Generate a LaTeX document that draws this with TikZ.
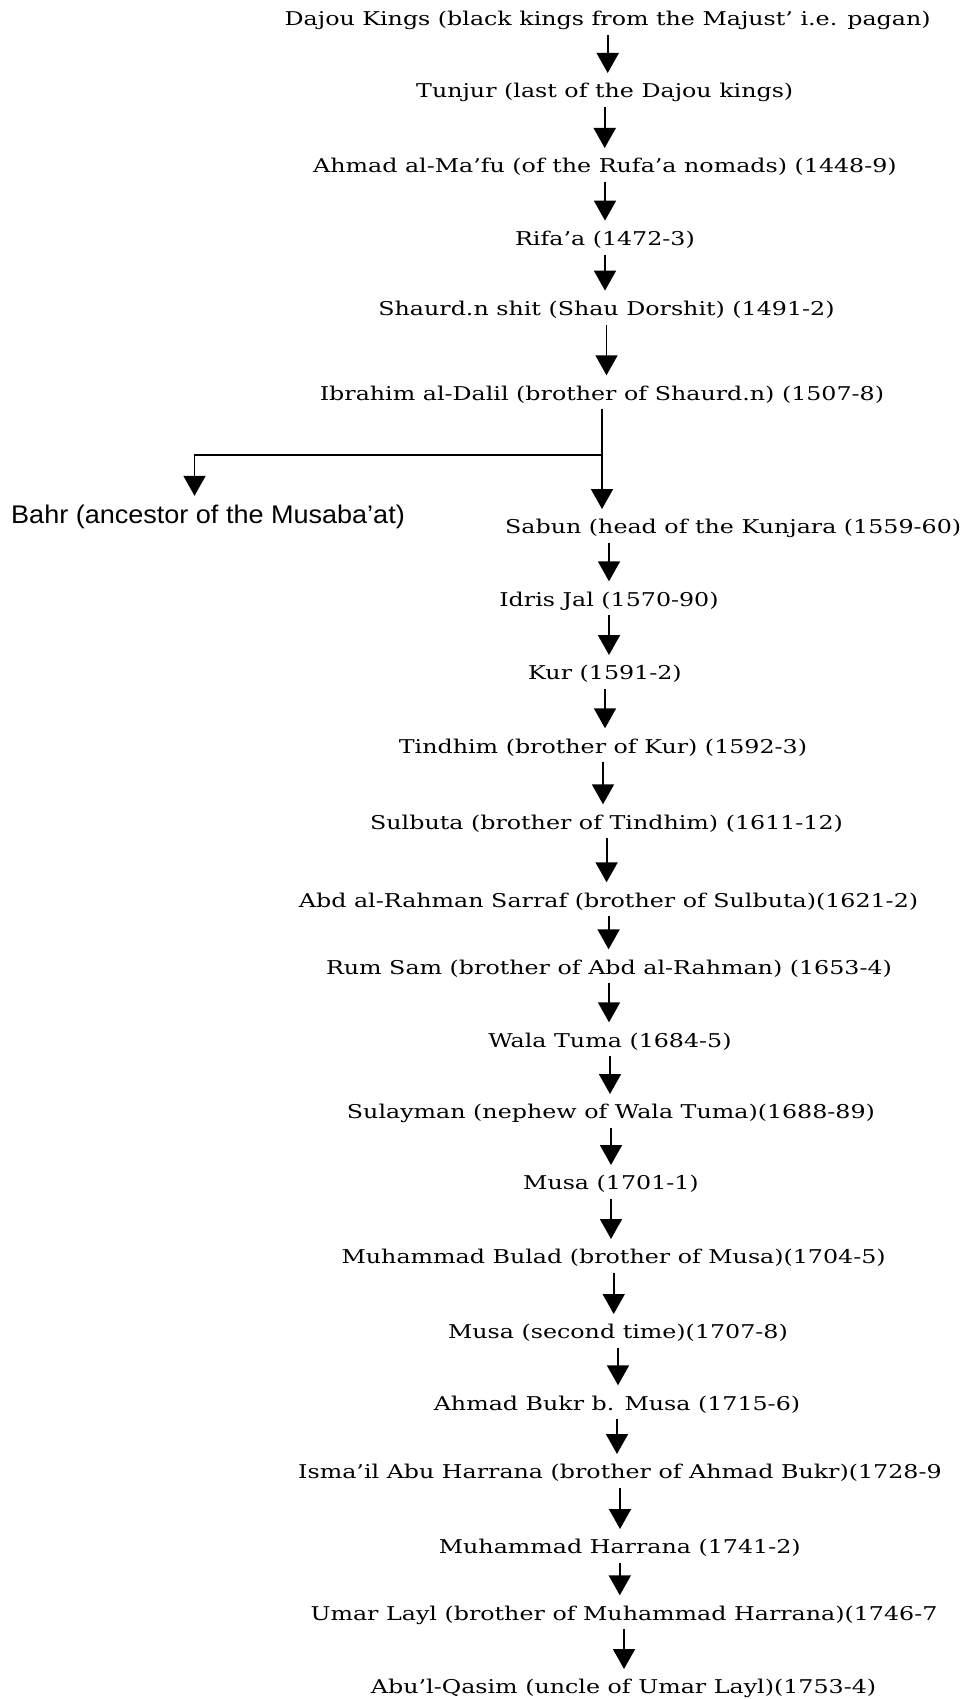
\documentclass[tikz,border=0pt]{standalone}
\usepackage{fontspec}
\setmainfont{DejaVu Serif}[FakeStretch=1.25]
\newfontfamily\bahrfont{Liberation Sans}[FakeStretch=1.06]
\usetikzlibrary{arrows.meta}
\begin{document}
\begin{tikzpicture}[x=1pt, y=-1pt, font=\fontsize{19pt}{22pt}\selectfont,
		>={Triangle[width=22pt,length=20pt]},
		king/.style={anchor=base, inner sep=0pt, text height=18pt, text depth=6pt},
		arr/.style={->, line width=1.8pt, shorten <=3pt, shorten >=6.5pt}]
	\useasboundingbox (0,0) rectangle (964,1699);
	% kings, placed at their baselines
	\node[king] (dajou) at (607.7,26) {Dajou Kings (black kings from the Majust’ i.e. pagan)};
	\node[king] (tunjur) at (604.7,97.7) {Tunjur (last of the Dajou kings)};
	\node[king] (mafu) at (605,172.7) {Ahmad al-Ma’fu (of the Rufa’a nomads) (1448-9)};
	\node[king] (rifaa) at (605,245.3) {Rifa’a (1472-3)};
	\node[king] (shaurd) at (606.5,315.3) {Shaurd.n shit (Shau Dorshit) (1491-2)};
	\node[king] (ibrahim) at (602,400) {Ibrahim al-Dalil (brother of Shaurd.n) (1507-8)};
	\node[king, anchor=base west] (bahr) at (11,523) {\bahrfont\fontsize{25.5pt}{28pt}\selectfont Bahr (ancestor of the Musaba’at)};
	\node[king, anchor=base west] (sabun) at (505,533.7) {Sabun (head of the Kunjara (1559-60)};
	\node[king] (idris) at (609,606) {Idris Jal (1570-90)};
	\node[king] (kur) at (605,679.7) {Kur (1591-2)};
	\node[king] (tindhim) at (603,753) {Tindhim (brother of Kur) (1592-3)};
	\node[king] (sulbuta) at (606.6,829) {Sulbuta (brother of Tindhim) (1611-12)};
	\node[king] (abd) at (608.6,907) {Abd al-Rahman Sarraf (brother of Sulbuta)(1621-2)};
	\node[king] (rum) at (609,974) {Rum Sam (brother of Abd al-Rahman) (1653-4)};
	\node[king] (wala) at (610,1047) {Wala Tuma (1684-5)};
	\node[king] (sulayman) at (611,1118.7) {Sulayman (nephew of Wala Tuma)(1688-89)};
	\node[king] (musa) at (611,1189.7) {Musa (1701-1)};
	\node[king] (bulad) at (613.7,1263.7) {Muhammad Bulad (brother of Musa)(1704-5)};
	\node[king] (musatwo) at (618,1338.7) {Musa (second time)(1707-8)};
	\node[king] (bukr) at (617,1410) {Ahmad Bukr b. Musa (1715-6)};
	\node[king] (ismail) at (620,1478.7) {Isma’il Abu Harrana (brother of Ahmad Bukr)(1728-9};
	\node[king] (harrana) at (619.8,1553.7) {Muhammad Harrana (1741-2)};
	\node[king] (umar) at (624,1620) {Umar Layl (brother of Muhammad Harrana)(1746-7};
	\node[king] (qasim) at (623.6,1693.7) {Abu’l-Qasim (uncle of Umar Layl)(1753-4)};
	% succession
	\foreach \a/\b in {dajou/tunjur, tunjur/mafu, mafu/rifaa, rifaa/shaurd, shaurd/ibrahim,
		ibrahim/sabun, idris/kur, kur/tindhim, tindhim/sulbuta, sulbuta/abd,
		abd/rum, rum/wala, wala/sulayman, sulayman/musa, musa/bulad, bulad/musatwo,
		musatwo/bukr, bukr/ismail, ismail/harrana, harrana/umar, umar/qasim}
		\draw[arr] (\a.south) -- (\a.south |- \b.north);
	\draw[arr] (sabun.south -| idris.north) -- (idris.north);
	% branch to Bahr
	\coordinate (fork) at (602,455);
	\draw[arr, shorten <=0pt, shorten >=9pt] (fork) -| ([xshift=-13.5pt]bahr.north);
\end{tikzpicture}
\end{document}
